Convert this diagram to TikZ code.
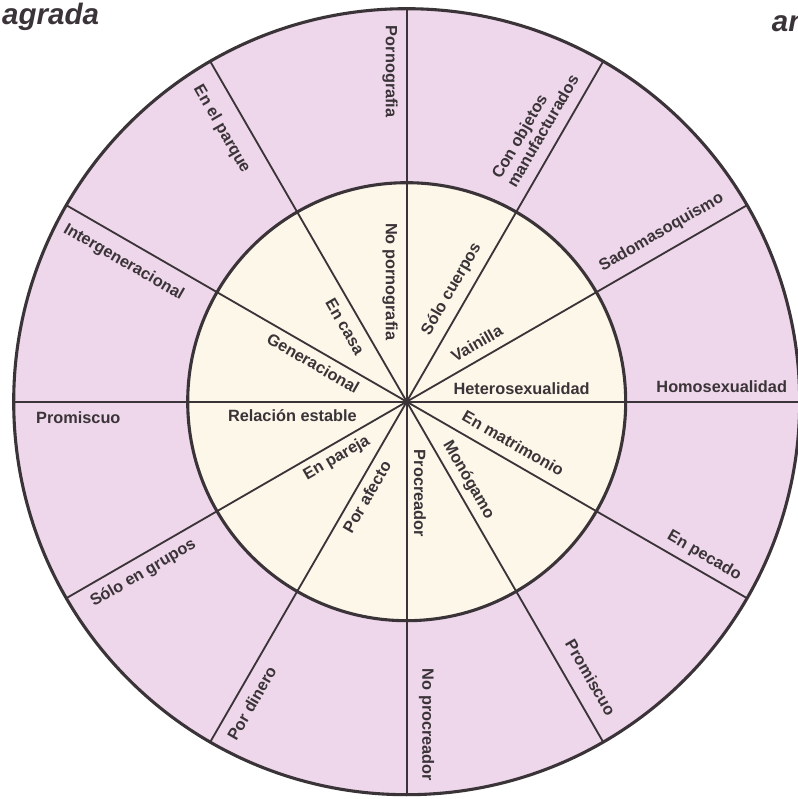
\documentclass[tikz,border=0pt]{standalone}
\usepackage{fontspec}
\setmainfont{Liberation Sans}
\usepackage{tikz}
\usetikzlibrary{calc}

\definecolor{ringpink}{RGB}{238,214,235}
\definecolor{innercream}{RGB}{252,247,233}
\definecolor{inkgray}{RGB}{58,52,56}

\begin{document}
\begin{tikzpicture}[
	lbl/.style={text=inkgray, font=\fontsize{11.6}{12.5}\selectfont\bfseries, inner sep=0pt},
	head/.style={text=inkgray, font=\fontsize{21}{24}\selectfont\bfseries\itshape, inner sep=0pt},
	spoke/.style={inkgray, line width=1.3pt}]
	\useasboundingbox (-10.1675,-9.9325) rectangle (9.7825,10.0425);
	\fill[white] (-10.1675,-9.9325) rectangle (9.7825,10.0425);
	% the two rings and the twelve spokes
	\filldraw[fill=ringpink, draw=inkgray, line width=2.2pt] (0,0) circle (9.825);
	\filldraw[fill=innercream, draw=inkgray, line width=2.2pt] (0,0) circle (5.475);
	\foreach \a in {0,30,...,330}
		\draw[spoke] (0,0) -- (\a:9.825);
	\fill[inkgray] (0,0) circle (0.08);
	% inner labels
	\node[lbl, rotate=-90] (nopor) at (97.9:3.03) {No pornografia};
	\node[lbl, rotate=60] (cuerpos) at (68.2:3.03) {Sólo cuerpos};
	\node[lbl, rotate=30] (vainilla) at (39.8:2.28) {Vainilla};
	\node[lbl] (hetero) at (6.3:2.89) {Heterosexualidad};
	\node[lbl, rotate=-30] (matri) at (-21.3:2.86) {En matrimonio};
	\node[lbl, rotate=-60] (monog) at (-51.8:2.49) {Monógamo};
	\node[lbl, rotate=-90] (procrea) at (-81.7:2.315) {Procreador};
	\node[lbl, rotate=60] (afecto) at (247.2:2.575) {Por afecto};
	\node[lbl, rotate=30] (pareja) at (219:2.25) {En pareja};
	\node[lbl] (estable) at (187.1:2.88) {Relación estable};
	\node[lbl, rotate=-30] (genera) at (157.6:2.525) {Generacional};
	\node[lbl, rotate=-60] (casa) at (129.4:2.43) {En casa};
	% outer labels
	\node[lbl, rotate=-90] (porno) at (92.9:8.26) {Pornografia};
	\node[lbl, rotate=60, align=left] (objetos) at (65:7.59) {Con objetos\\manufacturados};
	\node[lbl, rotate=30] (sado) at (33.6:7.65) {Sadomasoquismo};
	\node[lbl] (homo) at (2.7:7.885) {Homosexualidad};
	\node[lbl, rotate=-30] (pecado) at (-27.4:8.375) {En pecado};
	\node[lbl, rotate=-60] (promisc) at (-56.3:8.29) {Promiscuo};
	\node[lbl, rotate=-90] (noprocrea) at (-86.5:8.1) {No procreador};
	\node[lbl, rotate=60] (dinero) at (242.8:8.475) {Por dinero};
	\node[lbl, rotate=30] (grupos) at (213.1:7.86) {Sólo en grupos};
	\node[lbl] (promisc2) at (182.8:8.22) {Promiscuo};
	\node[lbl, rotate=-30] (intergen) at (153.8:7.89) {Intergeneracional};
	\node[lbl, rotate=-60] (parque) at (124.2:8.235) {En el parque};
	% cut-off page headings
	\node[head, anchor=base west] (sagrada) at (-10.12,9.4175) {agrada};
	\node[head, anchor=base west] (amor) at (9.125,9.25) {an};
\end{tikzpicture}
\end{document}
